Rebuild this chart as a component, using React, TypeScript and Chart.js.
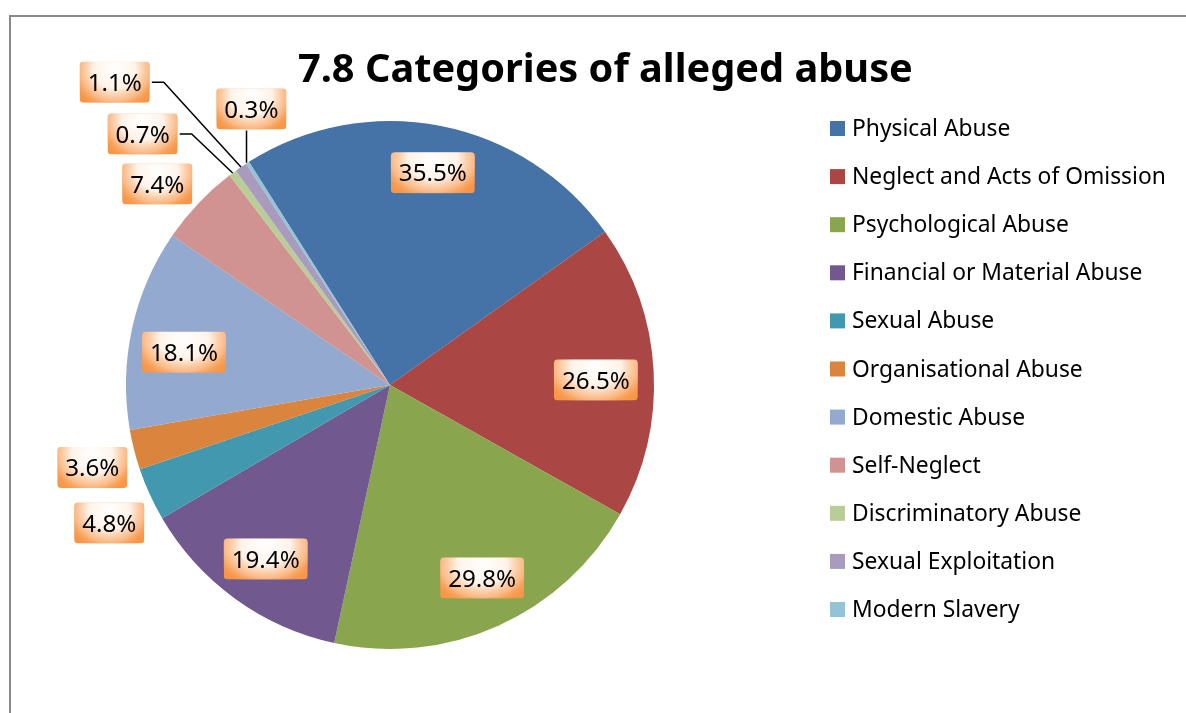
import React, { useEffect, useRef } from "react";
import { Chart, registerables } from "chart.js";

Chart.register(...registerables);

const titleText = "7.8 Categories of alleged abuse";

const categories = [
  "Physical Abuse",
  "Neglect and Acts of Omission",
  "Psychological Abuse",
  "Financial or Material Abuse",
  "Sexual Abuse",
  "Organisational Abuse",
  "Domestic Abuse",
  "Self-Neglect",
  "Discriminatory Abuse",
  "Sexual Exploitation",
  "Modern Slavery",
];

const values = [35.5, 26.5, 29.8, 19.4, 4.8, 3.6, 18.1, 7.4, 0.7, 1.1, 0.3];

const valueLabels = ["35.5%", "26.5%", "29.8%", "19.4%", "4.8%", "3.6%", "18.1%", "7.4%", "0.7%", "1.1%", "0.3%"];

const colors = [
  "#4572A7",
  "#AA4643",
  "#89A54E",
  "#71588F",
  "#4198AF",
  "#DB843D",
  "#93A9CF",
  "#D19392",
  "#B9CD96",
  "#A99BBD",
  "#92C4D6",
];

// label placement: distance from centre (fraction of radius) and angular shift (degrees)
const labelDistance = [0.82, 0.78, 0.81, 0.81, 1.185, 1.17, 0.79, 1.165, 1.335, 1.55, 1.17];
const labelAngleShift = [0.3, 1.7, -1.3, -0.4, -1.7, -1.3, -3.3, -2.7, -8.0, -7.9, 6.0];
const leaderLine = [false, false, false, false, false, false, false, false, true, true, true];

const FONT = '"Noto Sans", "Open Sans", sans-serif';

function fitSize(ctx: CanvasRenderingContext2D, text: string, weight: string, target: number) {
  ctx.font = `${weight} 40px ${FONT}`;
  const w = ctx.measureText(text).width;
  return (40 * target) / w;
}

function roundRect(ctx: CanvasRenderingContext2D, x: number, y: number, w: number, h: number, r: number) {
  ctx.beginPath();
  ctx.moveTo(x + r, y);
  ctx.lineTo(x + w - r, y);
  ctx.quadraticCurveTo(x + w, y, x + w, y + r);
  ctx.lineTo(x + w, y + h - r);
  ctx.quadraticCurveTo(x + w, y + h, x + w - r, y + h);
  ctx.lineTo(x + r, y + h);
  ctx.quadraticCurveTo(x, y + h, x, y + h - r);
  ctx.lineTo(x, y + r);
  ctx.quadraticCurveTo(x, y, x + r, y);
  ctx.closePath();
}

const decorPlugin = {
  id: "decor",
  beforeDraw(chart: any) {
    const ctx: CanvasRenderingContext2D = chart.ctx;
    ctx.save();
    ctx.fillStyle = "#ffffff";
    ctx.fillRect(0, 0, chart.width, chart.height);
    ctx.strokeStyle = "#898989";
    ctx.lineWidth = 2;
    ctx.beginPath();
    ctx.moveTo(10, chart.height + 5);
    ctx.lineTo(10, 16);
    ctx.lineTo(chart.width + 5, 16);
    ctx.stroke();
    ctx.restore();
  },
  afterDraw(chart: any) {
    const ctx: CanvasRenderingContext2D = chart.ctx;
    ctx.save();

    // Title
    const tSize = fitSize(ctx, titleText, "bold", 615);
    ctx.font = `bold ${tSize}px ${FONT}`;
    ctx.fillStyle = "#000000";
    ctx.textAlign = "left";
    ctx.textBaseline = "alphabetic";
    ctx.fillText(titleText, 298, 82);

    // Legend
    const lSize = fitSize(ctx, categories[1], "normal", 314);
    ctx.font = `normal ${lSize}px ${FONT}`;
    const legendX = 830;
    const legendTop = 136;
    const legendStep = 48.1;
    categories.forEach((c, i) => {
      const base = legendTop + i * legendStep;
      ctx.fillStyle = colors[i];
      ctx.fillRect(legendX, base - 15, 15, 15);
      ctx.fillStyle = "#000000";
      ctx.fillText(c, legendX + 22, base);
    });

    // Data labels
    const meta = chart.getDatasetMeta(0);
    const dSize = fitSize(ctx, "35.5%", "normal", 68);
    ctx.font = `normal ${dSize}px ${FONT}`;
    const boxH = 41;
    const boxes: any[] = [];
    meta.data.forEach((arc: any, i: number) => {
      const p = arc.getProps(["x", "y", "startAngle", "endAngle", "outerRadius"], true);
      const mid = (p.startAngle + p.endAngle) / 2;
      const a = mid + (labelAngleShift[i] * Math.PI) / 180;
      const r = p.outerRadius * labelDistance[i];
      const cx = p.x + r * Math.cos(a);
      const cy = p.y + r * Math.sin(a);
      const tw = ctx.measureText(valueLabels[i]).width;
      const bw = tw + 16;
      boxes.push({
        i,
        cx,
        cy,
        bw,
        px: p.x + p.outerRadius * Math.cos(mid),
        py: p.y + p.outerRadius * Math.sin(mid),
      });
    });

    // leader lines
    ctx.strokeStyle = "#000000";
    ctx.lineWidth = 1.5;
    boxes.forEach((b) => {
      if (!leaderLine[b.i]) return;
      const left = b.cx - b.bw / 2;
      const right = b.cx + b.bw / 2;
      const bottom = b.cy + boxH / 2;
      ctx.beginPath();
      if (b.px > left && b.px < right && bottom < b.py) {
        ctx.moveTo(b.px - 1, bottom + 1);
        ctx.lineTo(b.px - 1, b.py);
      } else {
        ctx.moveTo(right + 2, b.cy);
        ctx.lineTo(right + 14, b.cy);
        ctx.lineTo(b.px, b.py);
      }
      ctx.stroke();
    });

    // boxes
    boxes.forEach((b) => {
      const x = b.cx - b.bw / 2;
      const y = b.cy - boxH / 2;
      ctx.save();
      roundRect(ctx, x, y, b.bw, boxH, 4);
      ctx.clip();
      ctx.fillStyle = "#F79646";
      ctx.fillRect(x, y, b.bw, boxH);
      // elliptical radial gradient
      ctx.translate(b.cx, y + boxH * 0.18);
      ctx.scale(b.bw * 0.66, boxH * 1.05);
      const g = ctx.createRadialGradient(0, 0, 0, 0, 0, 1);
      g.addColorStop(0, "rgba(255,255,255,1)");
      g.addColorStop(0.45, "rgba(255,246,238,0.97)");
      g.addColorStop(0.75, "rgba(252,205,168,0.65)");
      g.addColorStop(1, "rgba(247,150,70,0)");
      ctx.fillStyle = g;
      ctx.fillRect(-2, -2, 4, 4);
      ctx.restore();
      ctx.fillStyle = "#000000";
      ctx.textAlign = "center";
      ctx.textBaseline = "alphabetic";
      ctx.fillText(valueLabels[b.i], b.cx, b.cy + dSize * 0.36);
    });

    ctx.restore();
  },
};

export default function App() {
  const canvasRef = useRef<HTMLCanvasElement | null>(null);

  useEffect(() => {
    if (!canvasRef.current) return;
    const chart = new Chart(canvasRef.current, {
      type: "pie",
      data: {
        labels: categories,
        datasets: [
          {
            data: values,
            backgroundColor: colors,
            borderWidth: 0,
          },
        ],
      },
      options: {
        animation: false,
        responsive: true,
        maintainAspectRatio: false,
        rotation: -32.3,
        layout: { padding: { left: 126, right: 532, top: 120, bottom: 63 } },
        plugins: {
          legend: { display: false },
          title: { display: false },
          tooltip: { enabled: false },
        },
        events: [],
      },
      plugins: [decorPlugin],
    });
    return () => chart.destroy();
  }, []);

  return (
    <div style={{ position: "absolute", left: 0, top: 0, width: 1186, height: 713, background: "#fff" }}>
      <canvas ref={canvasRef} />
    </div>
  );
}
